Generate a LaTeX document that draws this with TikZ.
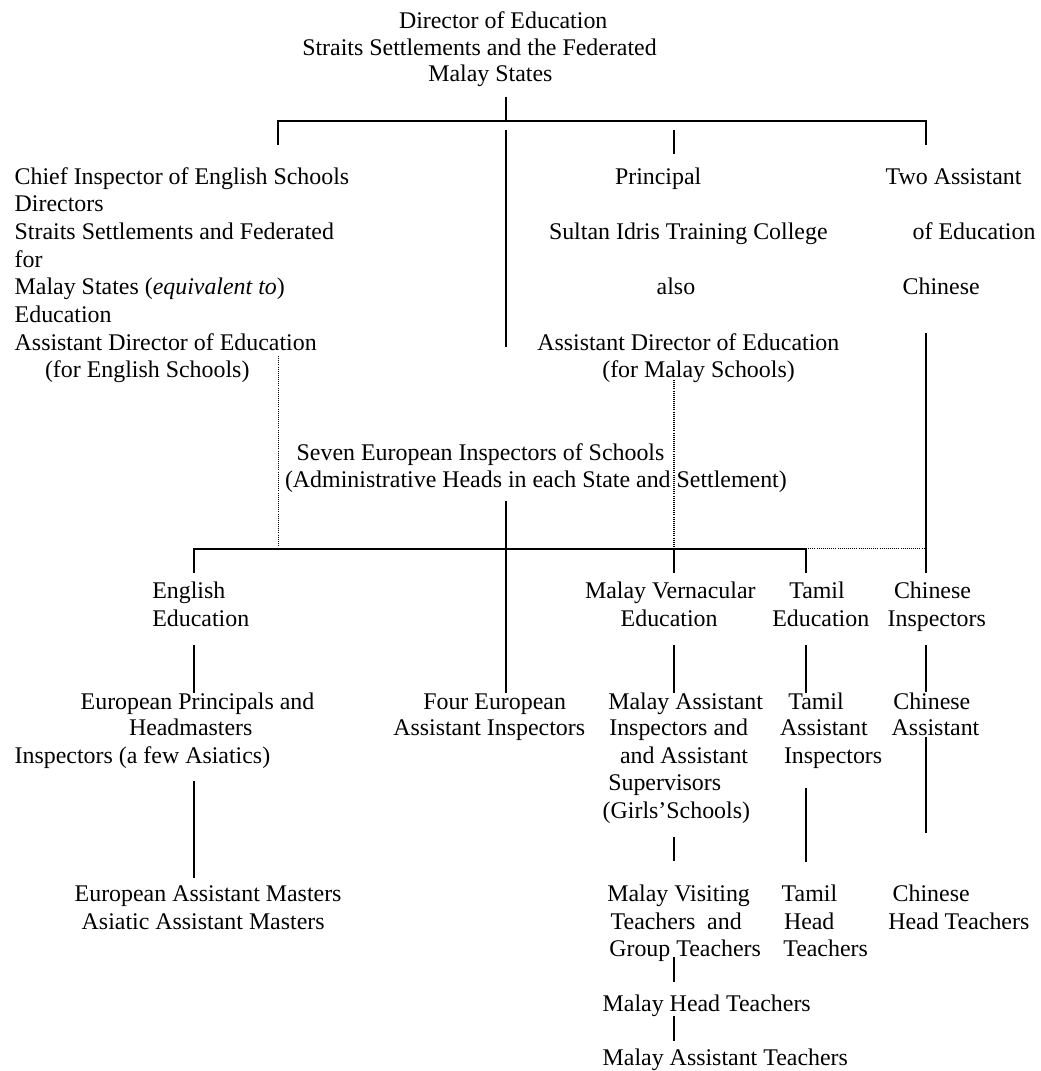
\documentclass[tikz,border=0pt]{standalone}
\usepackage{fontspec}
\setmainfont{Liberation Serif}
\begin{document}
\begin{tikzpicture}[x=1pt,y=-1pt,
  txt/.style={anchor=base west,inner sep=0pt,outer sep=0pt,font=\fontsize{23.9}{27.6}\selectfont},
  conn/.style={line width=2pt},
  dotconn/.style={line width=1.1pt,dash pattern=on 1pt off 1.1pt}]
\useasboundingbox (0,0) rectangle (1041,1071);
% top
\node[txt] (d1) at (399,28.3) {Director of Education};
\node[txt] (d2) at (302.3,55) {Straits Settlements and the Federated};
\node[txt] (d3) at (428.3,81.7) {Malay States};
% left block
\node[txt] (c1) at (14.7,184) {Chief Inspector of English Schools};
\node[txt] (c2) at (14.7,211.7) {Directors};
\node[txt] (c3) at (14.7,239.4) {Straits Settlements and Federated};
\node[txt] (c4) at (14.7,267.1) {for};
\node[txt] (c5) at (14.7,294.8) {Malay States (\textit{equivalent to})};
\node[txt] (c6) at (14.7,322.5) {Education};
\node[txt] (c7) at (14.7,350.2) {Assistant Director of Education};
\node[txt] (c8) at (45,377.9) {(for English Schools)};
% principal block
\node[txt] (p1) at (615,184) {Principal};
\node[txt] (p2) at (549,239.4) {Sultan Idris Training College};
\node[txt] (p3) at (656.7,294.8) {also};
\node[txt] (p4) at (537.3,350.2) {Assistant Director of Education};
\node[txt] (p5) at (602.3,377.9) {(for Malay Schools)};
% two assistant
\node[txt] (t1) at (885.7,184) {Two Assistant};
\node[txt] (t2) at (912.7,239.4) {of Education};
\node[txt] (t3) at (902.7,294.8) {Chinese};
% seven
\node[txt] (s1) at (296.7,460) {Seven European Inspectors of Schools};
\node[txt] (s2) at (285,487.3) {(Administrative Heads in each State and Settlement)};
% second level
\node[txt] (e1) at (152.3,598.3) {English};
\node[txt] (e2) at (152.3,626) {Education};
\node[txt] (m1) at (585,598.3) {Malay Vernacular};
\node[txt] (m2) at (620.7,626) {Education};
\node[txt] (ta1) at (789.3,598.3) {Tamil};
\node[txt] (ta2) at (772.3,626) {Education};
\node[txt] (ch1) at (894,598.3) {Chinese};
\node[txt] (ch2) at (887.7,626) {Inspectors};
% third level
\node[txt] (ep1) at (80.7,709) {European Principals and};
\node[txt] (ep2) at (129,735.7) {Headmasters};
\node[txt] (ep3) at (14.7,763.7) {Inspectors (a few Asiatics)};
\node[txt] (f1) at (423.3,709) {Four European};
\node[txt] (f2) at (393.3,735.7) {Assistant Inspectors};
\node[txt] (ma1) at (608.3,709) {Malay Assistant};
\node[txt] (ma2) at (609.3,735.7) {Inspectors and};
\node[txt] (ma3) at (620,763.3) {and Assistant};
\node[txt] (ma4) at (608.3,790.7) {Supervisors};
\node[txt] (ma5) at (602.7,818.3) {(Girls’Schools)};
\node[txt] (tai1) at (788.3,709) {Tamil};
\node[txt] (tai2) at (780,735.7) {Assistant};
\node[txt] (tai3) at (784,763.3) {Inspectors};
\node[txt] (cha1) at (893.3,709) {Chinese};
\node[txt] (cha2) at (891.7,735.7) {Assistant};
% fourth level
\node[txt] (ea1) at (74.7,901.7) {European Assistant Masters};
\node[txt] (ea2) at (81.7,929) {Asiatic Assistant Masters};
\node[txt] (mv1) at (607.3,901.7) {Malay Visiting};
\node[txt] (mv2) at (610.7,929) {Teachers\ \ and};
\node[txt] (mv3) at (609.3,956.7) {Group Teachers};
\node[txt] (th1) at (781.7,901.7) {Tamil};
\node[txt] (th2) at (784,929) {Head};
\node[txt] (th3) at (783.3,956.7) {Teachers};
\node[txt] (chh1) at (892.7,901.7) {Chinese};
\node[txt] (chh2) at (888.3,929) {Head Teachers};
\node[txt] (mh) at (602.7,1011.7) {Malay Head Teachers};
\node[txt] (mat) at (602.7,1065.7) {Malay Assistant Teachers};
% connector coordinates
\coordinate (dirB) at (506.3,96.7);
\coordinate (dirJ) at (506.3,120.7);
\coordinate (busL) at (278.3,120.7);
\coordinate (busR) at (926,120.7);
\coordinate (chiefT) at (278.3,145);
\coordinate (twoT) at (926,145);
\coordinate (midT) at (506.3,130);
\coordinate (midB) at (506.3,346.7);
\coordinate (prinT) at (674,130);
\coordinate (prinB) at (674,154);
\coordinate (chinT) at (926,333);
\coordinate (chinB) at (926,572.7);
\coordinate (sevB) at (506.3,500.7);
\coordinate (fourT) at (506.3,693.3);
\coordinate (engT) at (194,572.7);
\coordinate (bus2L) at (194,549);
\coordinate (bus2R) at (806,549);
\coordinate (tamT) at (806,572.7);
\coordinate (malJ) at (674,549);
\coordinate (malT) at (674,572.7);
\coordinate (engB) at (194,645);
\coordinate (epT) at (194,693.3);
\coordinate (malB) at (674,645);
\coordinate (maT) at (674,693.3);
\coordinate (tamB) at (806,645);
\coordinate (taiT) at (806,693.3);
\coordinate (chB) at (926,645);
\coordinate (chaT) at (926,691.7);
\coordinate (epB) at (194.3,781);
\coordinate (eaT) at (194.3,877.7);
\coordinate (maB) at (674,836.7);
\coordinate (mvT) at (674,861);
\coordinate (taiB) at (806,788.3);
\coordinate (thT) at (806,861.7);
\coordinate (chaB) at (926,736.7);
\coordinate (chhT) at (926,833.3);
\coordinate (mvB) at (674,956.7);
\coordinate (mhT) at (674,981.7);
\coordinate (mhB) at (674,1016);
\coordinate (matT) at (674,1040.7);
\coordinate (dotAT) at (278.3,356);
\coordinate (dotAB) at (278.3,547);
\coordinate (dotBT) at (674,380);
\coordinate (dotBB) at (674,547);
\coordinate (dotCL) at (806,548.3);
\coordinate (dotCR) at (926,548.3);
% solid connectors
\draw[conn] (dirB) -- (dirJ);
\draw[conn] (chiefT) -- (busL) -- (busR) -- (twoT);
\draw[conn] (midT) -- (midB);
\draw[conn] (prinT) -- (prinB);
\draw[conn] (chinT) -- (chinB);
\draw[conn] (sevB) -- (fourT);
\draw[conn] (engT) -- (bus2L) -- (bus2R) -- (tamT);
\draw[conn] (malJ) -- (malT);
\draw[conn] (engB) -- (epT);
\draw[conn] (malB) -- (maT);
\draw[conn] (tamB) -- (taiT);
\draw[conn] (chB) -- (chaT);
\draw[conn] (epB) -- (eaT);
\draw[conn] (maB) -- (mvT);
\draw[conn] (taiB) -- (thT);
\draw[conn] (chaB) -- (chhT);
\draw[conn] (mvB) -- (mhT);
\draw[conn] (mhB) -- (matT);
% dotted connectors
\draw[dotconn] (dotAT) -- (dotAB);
\draw[dotconn] (dotBT) -- (dotBB);
\draw[dotconn] (dotCL) -- (dotCR);
\end{tikzpicture}
\end{document}
